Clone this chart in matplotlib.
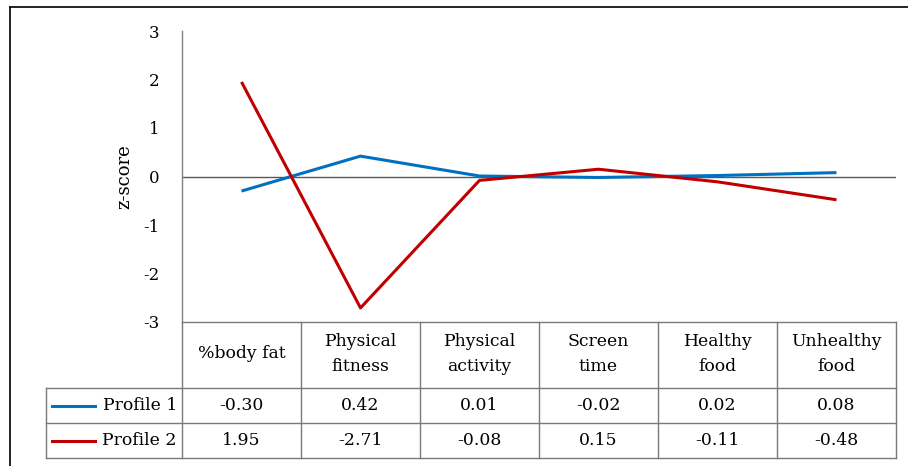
import matplotlib
matplotlib.use("Agg")
import matplotlib.pyplot as plt
from matplotlib.lines import Line2D

categories = ["%body fat", "Physical\nfitness", "Physical\nactivity", "Screen\ntime", "Healthy\nfood", "Unhealthy\nfood"]
series_names = ["Profile 1", "Profile 2"]
profile1 = [-0.30, 0.42, 0.01, -0.02, 0.02, 0.08]
profile2 = [1.95, -2.71, -0.08, 0.15, -0.11, -0.48]
colors = ["#0070C0", "#C00000"]
yticks = [-3, -2, -1, 0, 1, 2, 3]

plt.rcParams['font.family'] = ['DejaVu Serif']
W, H = 908, 466
fig = plt.figure(figsize=(W / 100, H / 100), dpi=100)

def fx(px):
    return px / W

def fy(py):
    return 1 - py / H

# outer frame (top + left visible)
fig.add_artist(Line2D([fx(10), fx(908)], [fy(7), fy(7)], color="black", lw=1.2))
fig.add_artist(Line2D([fx(10), fx(10)], [fy(7), fy(466)], color="black", lw=1.2))

left, right, top, bot = 182, 896, 31, 322
ax = fig.add_axes([fx(left), fy(bot), fx(right) - fx(left), fy(top) - fy(bot)])
n = len(categories)
x = list(range(n))
for vals, c in zip([profile1, profile2], colors):
    ax.plot(x, vals, color=c, lw=2.2, solid_capstyle="butt", zorder=3)
ax.set_xlim(-0.5, n - 0.5)
ax.set_ylim(-3, 3)
ax.axhline(0, color="#595959", lw=1.0, zorder=2)
for s in ["top", "right", "bottom"]:
    ax.spines[s].set_visible(False)
ax.spines["left"].set_color("#808080")
ax.spines["left"].set_linewidth(1.0)
ax.set_xticks([])
ax.set_yticks(yticks)
ax.set_yticklabels([str(v) for v in yticks], fontsize=12)
ax.tick_params(axis="y", length=0, pad=16)
ax.set_ylabel("z-score", fontsize=13, labelpad=7)

# data table
gray = "#7a7a7a"
col_w = (right - left) / n
row_y = [322, 388, 423, 458]
fs = 12.4
for i in range(n + 1):
    xx = left + i * col_w
    fig.add_artist(Line2D([fx(xx), fx(xx)], [fy(322), fy(458)], color=gray, lw=1.0))
for yy in row_y[1:]:
    fig.add_artist(Line2D([fx(46), fx(right)], [fy(yy), fy(yy)], color=gray, lw=1.0))
fig.add_artist(Line2D([fx(left), fx(right)], [fy(322), fy(322)], color=gray, lw=1.0))
fig.add_artist(Line2D([fx(46), fx(46)], [fy(388), fy(458)], color=gray, lw=1.0))

for i, cat in enumerate(categories):
    cx = left + (i + 0.5) * col_w
    fig.text(fx(cx), fy((row_y[0] + row_y[1]) / 2 - 1), cat, ha="center", va="center",
             fontsize=fs, linespacing=1.6)

for r, (name, vals, c) in enumerate(zip(series_names, [profile1, profile2], colors)):
    cy = (row_y[r + 1] + row_y[r + 2]) / 2
    fig.add_artist(Line2D([fx(52), fx(95)], [fy(cy), fy(cy)], color=c, lw=2.2))
    fig.text(fx(177), fy(cy), name, ha="right", va="center", fontsize=fs)
    for i, v in enumerate(vals):
        cx = left + (i + 0.5) * col_w
        fig.text(fx(cx), fy(cy), f"{v:.2f}", ha="center", va="center", fontsize=fs)

fig.savefig("out.png", dpi=100)
